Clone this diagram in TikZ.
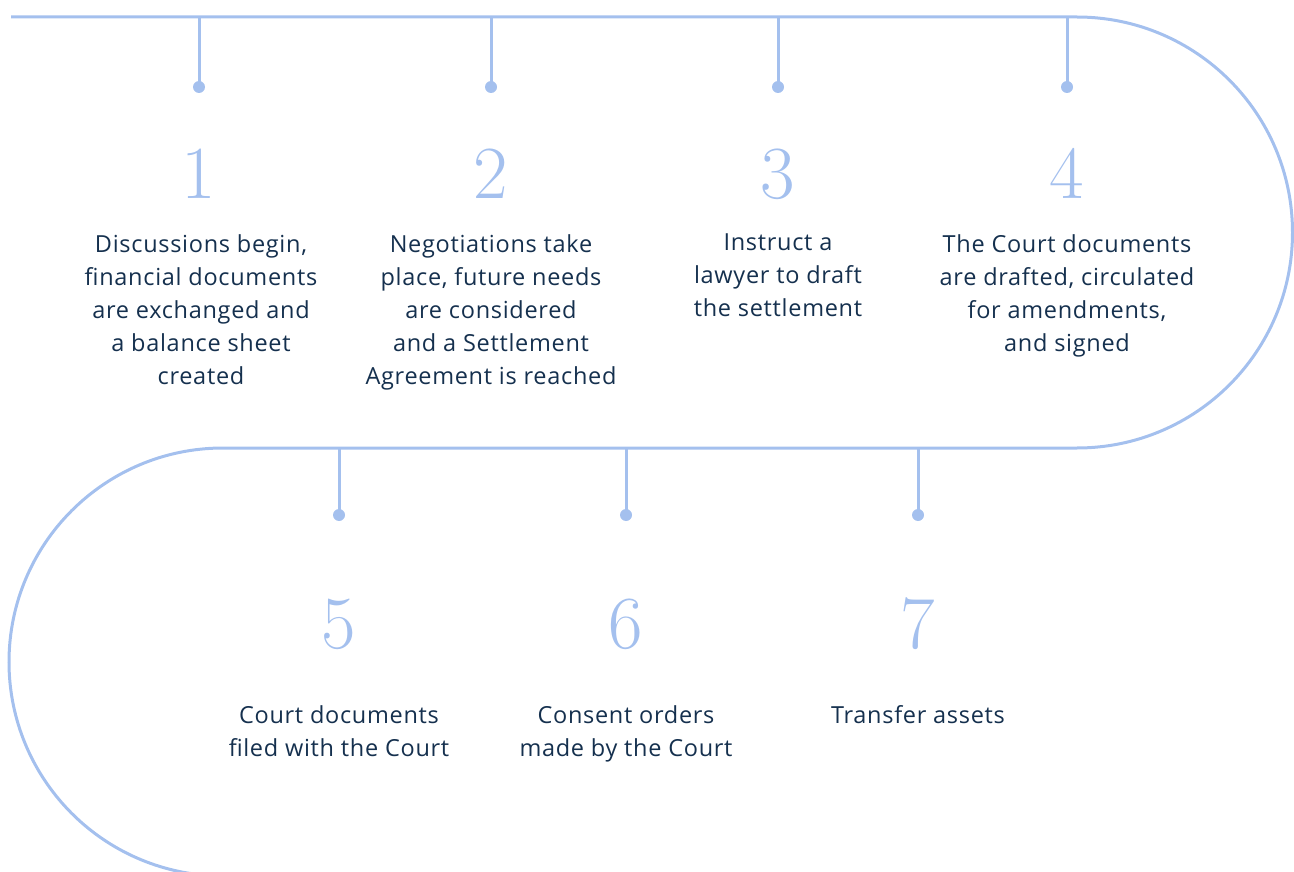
\documentclass[tikz,border=0pt]{standalone}
\usepackage{fontspec}
\newfontfamily\bodyfont[LetterSpace=3]{Open Sans}
\definecolor{lineblue}{HTML}{A4C0EE}
\definecolor{navy}{HTML}{15304E}
\begin{document}
\begin{tikzpicture}[x=1pt,y=-1pt,
  track/.style={draw=lineblue,line width=3pt},
  stem/.style={draw=lineblue,line width=3pt},
  dotnode/.style={circle,fill=lineblue,inner sep=0pt,minimum size=12pt},
  num/.style={text=lineblue,font=\fontsize{75}{75}\selectfont,anchor=base,inner sep=0pt},
  desc/.style={text=navy,font=\bodyfont\fontsize{23.5}{33}\selectfont,align=center,anchor=north,inner sep=0pt}]
\useasboundingbox (0,0) rectangle (1294,872);
% track
\coordinate (tl) at (11,17);
\coordinate (tr) at (1077,17);
\coordinate (bl) at (223,448);
\draw[track] (tl) -- (tr) arc[start angle=-90,end angle=90,radius=215.5] -- (bl) arc[start angle=-90,end angle=-262,radius=214];
% top row
\foreach \n/\x in {1/199,2/491,3/778,4/1067}{
  \coordinate (s\n) at (\x,17);
  \node[dotnode] (d\n) at (\x,87) {};
  \draw[stem] (s\n) -- (d\n.center);
  \node[num] (n\n) at (\x,198) {\n};
}
\foreach \n/\x in {5/339,6/626,7/918}{
  \coordinate (s\n) at (\x,448);
  \node[dotnode] (d\n) at (\x,515) {};
  \draw[stem] (s\n) -- (d\n.center);
  \node[num] (n\n) at (\x,648) {\n};
}
\node[desc] (t1) at (201,234) {Discussions begin,\\financial documents\\are exchanged and\\a balance sheet\\created};
\node[desc] (t2) at (491,234) {Negotiations take\\place, future needs\\are considered\\and a Settlement\\Agreement is reached};
\node[desc] (t3) at (778,234) {Instruct a\\lawyer to draft\\the settlement};
\node[desc] (t4) at (1067,234) {The Court documents\\are drafted, circulated\\for amendments,\\and signed};
\node[desc] (t5) at (339,705) {Court documents\\filed with the Court};
\node[desc] (t6) at (626,705) {Consent orders\\made by the Court};
\node[desc] (t7) at (918,705) {Transfer assets};
\end{tikzpicture}
\end{document}
